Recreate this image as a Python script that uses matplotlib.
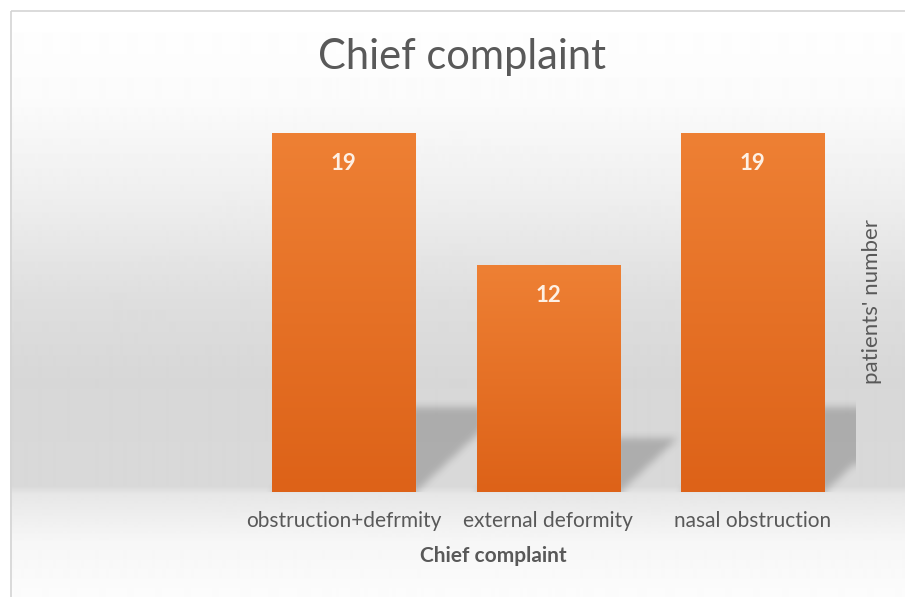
import numpy as np
import matplotlib
matplotlib.use("Agg")
import matplotlib.pyplot as plt
from matplotlib.colors import LinearSegmentedColormap
from matplotlib.patches import Rectangle

# ---- data ----
categories = ["obstruction+defrmity", "external deformity", "nasal obstruction"]
patients = [19, 12, 19]
chart_title = "Chief complaint"
x_title = "Chief complaint"
y_title = "patients' number"

plt.rcParams["font.family"] = ["Lato", "DejaVu Sans"]
TEXT = "#595959"

W, H = 905, 597
fig = plt.figure(figsize=(W / 100, H / 100), dpi=100)
fig.patch.set_facecolor("white")

# ---- backdrop: soft vertical grey gradient inside a thin frame ----
bg = fig.add_axes([0, 0, 1, 1], zorder=0)
bg.set_axis_off()
rows = np.arange(H)
stops_y = [0, 10, 100, 200, 300, 380, 486, 494, 540, 597]
stops_v = [255, 255, 251, 238, 222, 215, 217, 231, 246, 252]
col = np.interp(rows, stops_y, stops_v) / 255.0
img = np.repeat(col[:, None], W, axis=1)
img[:, :10] = 1.0
bg.imshow(img, cmap="gray", vmin=0, vmax=1, extent=[0, W, H, 0],
          aspect="auto", interpolation="bilinear")
bg.set_xlim(0, W)
bg.set_ylim(H, 0)
bg.add_patch(Rectangle((10.5, 10.5), W, H, fill=False,
                       edgecolor="#d4d4d4", lw=1.2))

# ---- plot area ----
ax = fig.add_axes([241.5 / W, 105 / H, 613.5 / W, 359 / H], zorder=1)
ax.patch.set_alpha(0)
x = np.arange(len(categories))
bar_w = 0.7

# perspective shadow cast by each bar onto the back wall
nx, ny = 614, 359
xs = np.linspace(-0.5, 2.5, nx)
ys = np.linspace(0, 19, ny)
X, Y = np.meshgrid(xs, ys)
mask = np.zeros_like(X)
for xi, h in zip(x, patients):
    top = 0.235 * h
    dx = 0.44 * h / 19.0
    t = Y / top
    inside = (Y <= top) & (X >= xi - bar_w / 2 + dx * t) & (X <= xi + bar_w / 2 + dx * t)
    mask = np.maximum(mask, inside.astype(float))


def box_blur(a, r):
    out = a.copy()
    for axis in (0, 1):
        pad = [(0, 0), (0, 0)]
        pad[axis] = (r, r)
        p = np.pad(out, pad, mode="edge")
        c = np.cumsum(p, axis=axis)
        c = np.insert(c, 0, 0, axis=axis)
        n = out.shape[axis]
        hi = np.take(c, np.arange(2 * r + 1, 2 * r + 1 + n), axis=axis)
        lo = np.take(c, np.arange(0, n), axis=axis)
        out = (hi - lo) / (2 * r + 1)
    return out


mask = box_blur(box_blur(mask, 4), 4)
shadow = np.zeros((ny, nx, 4))
shadow[..., :3] = 0.28
shadow[..., 3] = 0.30 * mask
ax.imshow(shadow, extent=[-0.5, 2.5, 0, 19], origin="lower", aspect="auto",
          zorder=1, interpolation="bilinear")

# bars with a vertical orange gradient
bars = ax.bar(x, patients, width=bar_w, color="#E8722A", edgecolor="#FBE3D0",
              linewidth=0.8, zorder=2)
orange = LinearSegmentedColormap.from_list("orange", ["#DD6218", "#EE8034"])
grad = np.linspace(0, 1, 256)[:, None]
for b in bars:
    ax.imshow(grad, cmap=orange, origin="lower", aspect="auto", zorder=2.5,
              extent=[b.get_x(), b.get_x() + b.get_width(), 0, b.get_height()])

for xi, v in zip(x, patients):
    ax.annotate(str(v), (xi, v), xytext=(0, -30), textcoords="offset pixels",
                ha="center", va="center", color="#FDF0E4", fontsize=16,
                fontweight="bold", zorder=4)

ax.set_xlim(-0.5, 2.5)
ax.set_ylim(0, 19)
ax.set_yticks([])
ax.set_xticks(x, categories)
ax.tick_params(axis="x", length=0, pad=14, labelsize=15, labelcolor=TEXT)
for s in ax.spines.values():
    s.set_visible(False)

ax.set_xlabel(x_title, fontsize=15, fontweight="bold", color=TEXT)
ax.xaxis.set_label_coords((493 - 241.5) / 613.5, (492 - 546) / 359)
ax.xaxis.label.set_va("top")

ax.yaxis.set_label_position("right")
ax.set_ylabel(y_title, fontsize=16, color=TEXT, rotation=90)
ax.yaxis.set_label_coords((872 - 241.5) / 613.5, (492 - 302) / 359)
ax.yaxis.label.set_va("center")
ax.yaxis.label.set_ha("center")

fig.text(462 / W, 1 - 69 / H, chart_title, ha="center", va="baseline",
         fontsize=30, color=TEXT)

fig.savefig("out.png", dpi=100)
